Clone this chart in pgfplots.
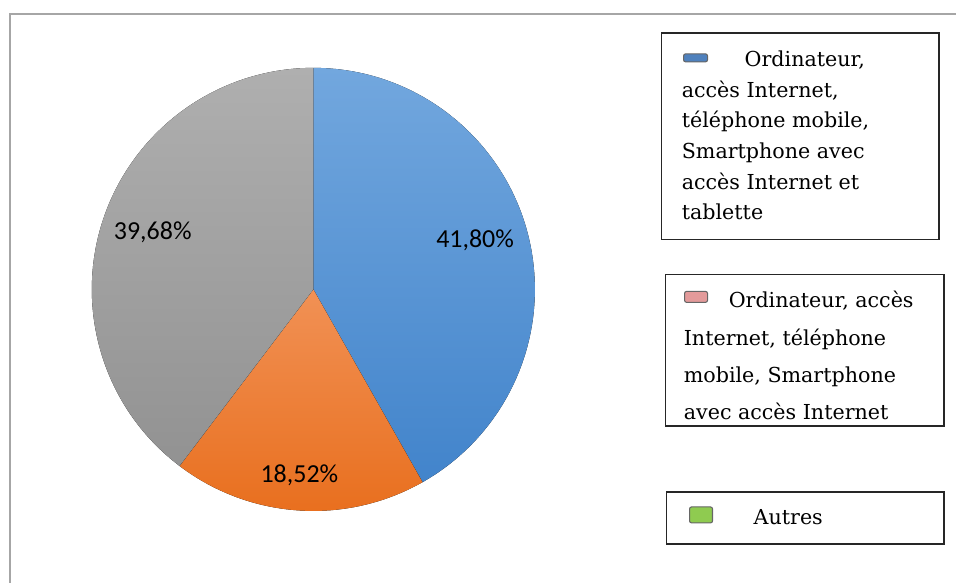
\documentclass[border=0pt]{standalone}
\usepackage{pgfplots}
\pgfplotsset{compat=1.18}
\usepackage{fontspec}
\newfontfamily\carlito{Carlito}
\newfontfamily\legserif{DejaVu Serif}

\definecolor{blueT}{HTML}{72A7DE}
\definecolor{blueB}{HTML}{4284CB}
\definecolor{orangeT}{HTML}{F19155}
\definecolor{orangeB}{HTML}{E86D1B}
\definecolor{grayT}{HTML}{AFAFAF}
\definecolor{grayB}{HTML}{929292}
\definecolor{frameGray}{HTML}{A6A6A6}
\definecolor{swBlue}{HTML}{4F81BD}
\definecolor{swPink}{HTML}{E39A9A}
\definecolor{swGreen}{HTML}{8FCB50}

% shares in percent
\def\vA{41.80}
\def\vB{18.52}
\def\vC{39.68}

\begin{document}
\begin{tikzpicture}[x=0.75pt,y=0.75pt]
\pgfmathsetmacro\aA{90}
\pgfmathsetmacro\aB{\aA-3.6*\vA}
\pgfmathsetmacro\aC{\aB-3.6*\vB}
\pgfmathsetmacro\aD{\aC-3.6*\vC}
\path (0,0) rectangle (957,583);
\draw[frameGray, line width=1.5pt] (10,-1) -- (10,569) -- (958,569);

% pie centre at pixel (314,290) -> (235.5pt, 219.75pt)
\begin{axis}[
    at={(235.5pt,219.75pt)}, anchor=center,
    hide axis, clip=false,
    x=166.5pt, y=166.5pt,
    xmin=-1, xmax=1, ymin=-1, ymax=1,
]
\fill[top color=blueT, bottom color=blueB]
  (axis cs:0,0) -- (axis cs:{cos(\aA)},{sin(\aA)})
  arc[start angle=\aA, end angle=\aB, radius=166.5pt] -- cycle;
\fill[top color=orangeT, bottom color=orangeB]
  (axis cs:0,0) -- (axis cs:{cos(\aB)},{sin(\aB)})
  arc[start angle=\aB, end angle=\aC, radius=166.5pt] -- cycle;
\fill[top color=grayT, bottom color=grayB]
  (axis cs:0,0) -- (axis cs:{cos(\aC)},{sin(\aC)})
  arc[start angle=\aC, end angle=\aD, radius=166.5pt] -- cycle;
\node[font=\carlito\fontsize{19.5}{22}\selectfont] at (axis cs:0.73,0.22) {41,80\%};
\node[font=\carlito\fontsize{19.5}{22}\selectfont] at (axis cs:-0.725,0.257) {39,68\%};
\node[font=\carlito\fontsize{19.5}{22}\selectfont] at (axis cs:-0.063,-0.838) {18,52\%};
\end{axis}

% legend boxes
\draw[black!85, line width=1.1pt] (663,550) rectangle (941,343);
\draw[black!85, line width=1.1pt] (667,308) rectangle (946,156);
\draw[black!85, line width=1.1pt] (668,90) rectangle (946,38);

\draw[fill=swBlue, draw=black!60, rounded corners=1.5pt, line width=0.8pt] (685,529) rectangle (709,521);
\draw[fill=swPink, draw=black!60, rounded corners=1.5pt, line width=0.8pt] (686,291) rectangle (709,280);
\draw[fill=swGreen, draw=black!60, rounded corners=1.5pt, line width=0.8pt] (691,75) rectangle (714,59);
\begin{scope}[every node/.style={anchor=base west, inner sep=0pt, font=\legserif\fontsize{15.5}{18}\selectfont}]
\node at (746,516) {Ordinateur,};
\node at (683,485.5) {accès Internet,};
\node at (683,455) {téléphone mobile,};
\node at (683,424) {Smartphone avec};
\node at (683,393) {accès Internet et};
\node at (683,363) {tablette};

\node at (730,275) {Ordinateur, accès};
\node at (685,237) {Internet, téléphone};
\node at (685,200) {mobile, Smartphone};
\node at (685,163) {avec accès Internet};

\node at (755,57) {Autres};
\end{scope}
\end{tikzpicture}
\end{document}
